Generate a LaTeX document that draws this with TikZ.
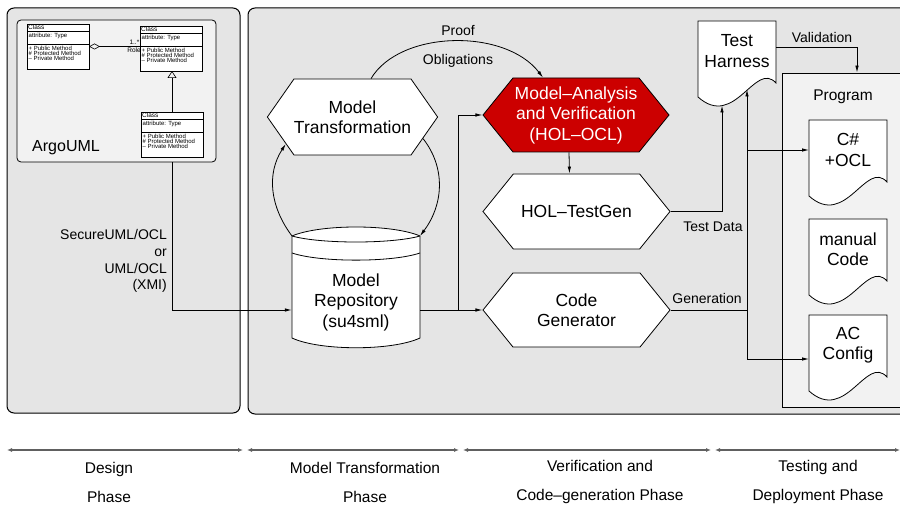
\documentclass[tikz,border=0pt]{standalone}
\usepackage{fontspec}
\setmainfont{Liberation Sans}
\usetikzlibrary{arrows.meta,shapes.symbols}

\definecolor{panelgray}{HTML}{E5E5E5}
\definecolor{lightpanel}{HTML}{F2F2F2}
\definecolor{holred}{HTML}{CC0000}

\tikzset{
  >={Latex[length=7pt,width=3.5pt]},
  conn/.style={line width=0.8pt},
  hexbox/.style={signal, signal to=west and east, draw, fill=white, inner sep=0pt,
    line width=0.8pt, align=center, font=\fontsize{17.5}{20.5}\selectfont},
  lbl/.style={inner sep=0pt, font=\fontsize{14}{16.8}\selectfont},
  bigtxt/.style={inner sep=0pt, align=center, font=\fontsize{17.5}{20.5}\selectfont},
  phase/.style={line width=1.6pt, color=gray!75!black,
    {Latex[length=5pt,width=4pt]}-{Latex[length=5pt,width=4pt]}},
  phaselbl/.style={align=center, font=\fontsize{15.5}{29}\selectfont},
  umltxt/.style={anchor=north west, inner sep=0pt, align=left, font=\fontsize{6}{5}\selectfont},
  docpage/.pic={
    \draw[fill=white, line width=0.8pt] (-39,30) -- (39,30) -- (39,-32)
      .. controls (18,-9) and (-2,-79) .. (-39,-46) -- cycle;
    \coordinate (-dip) at (-15,-54.5);
    \coordinate (-hit) at (10,-38.5);
    \coordinate (-w) at (-39,0);
    \coordinate (-e) at (39,0);
    \node[bigtxt] (-t) at (0,0) {#1};
  },
  umlclass/.pic={
    \node[draw, fill=white, line width=0.5pt, minimum width=62, minimum height=45,
      inner sep=0pt, anchor=north west] (-box) at (0,0) {};
    \draw[line width=0.5pt] (0,-7) -- (62,-7) (0,-20.5) -- (62,-20.5);
    \node[umltxt, font=\fontsize{6.5}{6.5}\selectfont] (-name) at (1,-0.4) {Class};
    \node[umltxt] (-attr) at (1.5,-8.6) {attribute: Type};
    \node[umltxt] (-ops) at (1.5,-22.3) {+ Public Method\\\# Protected Method\\-- Private Method};
    \coordinate (-n) at (31,0);
    \coordinate (-s) at (31,-45);
    \coordinate (-e) at (62,-22.5);
    \coordinate (-w) at (0,-22.5);
  }
}

\begin{document}
\begin{tikzpicture}[x=1pt,y=1pt]
\useasboundingbox (0,0) rectangle (900,-505);
\clip (0,0) rectangle (900,-505);

%the two panels
\draw[fill=panelgray, rounded corners=7pt, line width=1pt] (7,-8) rectangle (240,-413);
\draw[fill=panelgray, rounded corners=7pt, line width=1pt] (248,-8) rectangle (940,-414);

%design tool with a small class diagram
\node[draw, fill=lightpanel, rounded corners=4pt, line width=0.8pt, minimum width=199,
  minimum height=142, inner sep=0pt] (argo) at (116.5,-91) {};
\pic (c1) at (27,-24) {umlclass};
\pic (c2) at (140,-26) {umlclass};
\pic (c3) at (141,-112) {umlclass};
\draw[line width=0.6pt, {Diamond[open,length=11pt,width=6pt]}-] (c1-e) -- (c2-w |- c1-e);
\node[inner sep=0pt, anchor=east, font=\fontsize{6.5}{6.5}\selectfont] (mult) at (139.5,-42.5) {1..*};
\node[inner sep=0pt, anchor=east, font=\fontsize{6.5}{6.5}\selectfont] (role) at (141,-50) {Role};
\draw[line width=0.6pt, -{Triangle[open,length=7pt,width=9pt]}] (c3-n) -- (c3-n |- c2-s);
\node[inner sep=0pt, font=\fontsize{16}{16}\selectfont] (argolbl) at (66,-148) {ArgoUML};

%program box
\node[draw, fill=lightpanel, line width=0.8pt, minimum width=150, minimum height=334,
  inner sep=0pt] (prog) at (857,-240) {};
\node[inner sep=0pt, font=\fontsize{15.5}{18}\selectfont] (proglbl) at (843,-97) {Program};

%tools
\node[hexbox, minimum width=165, minimum height=76, signal pointer angle=110] (mt) at (352.5,-117) {Model\\Transformation};
\node[hexbox, fill=holred, text=white, minimum width=186, minimum height=74, signal pointer angle=102] (mava) at (576,-115) {Model--Analysis\\and Verification\\(HOL--OCL)};
\node[hexbox, minimum width=187, minimum height=75, signal pointer angle=102] (holtg) at (576.5,-211.5) {HOL--TestGen};
\node[hexbox, minimum width=187, minimum height=74, signal pointer angle=102] (codegen) at (576.5,-310) {Code\\Generator};

%model repository
\coordinate (repotl) at (292,-236);
\coordinate (repotr) at (420,-236);
\draw[fill=white, line width=0.8pt] (repotl) .. controls (320,-224) and (392,-224) .. (repotr)
  -- (420,-338) .. controls (392,-351) and (320,-351) .. (292,-338) -- cycle;
\draw[line width=0.8pt] (repotl) .. controls (320,-244) and (392,-244) .. (repotr);
\draw[line width=0.8pt] (292,-253) .. controls (320,-262.5) and (392,-262.5) .. (420,-253);
\node[bigtxt, minimum width=128] (repo) at (356,-302) {Model\\Repository\\(su4sml)};

%documents
\pic (harness) at (737,-51) {docpage={Test\\Harness}};
\pic (csharp) at (848,-150) {docpage={C\#\\+OCL}};
\pic (manual) at (848,-249) {docpage={manual\\Code}};
\pic (acconfig) at (848,-345) {docpage={AC\\Config}};

%connectors
\draw[conn,->] (c3-s |- argo.south) |- (repo.west |- codegen.west);
\draw[conn,->] (repotl) to[out=127, in=237] (mt.202);
\draw[conn,->] (mt.-17) to[out=-52, in=53] (repotr);
\draw[conn,->] ([xshift=18.5]mt.north) .. controls (400,-30) and (505,-28) .. ([xshift=-33]mava.north);
\draw[conn,->] (repo.east |- codegen.west) -- (codegen.west);
\draw[conn,->] ([xshift=38]repo.east |- codegen.west) |- (mava.west);
\draw[conn,->] ([xshift=-7]mava.south) -- ([xshift=-7]holtg.north);
\draw[conn,->] (holtg.east) -| (harness-dip);
\draw[conn,->] (codegen.east) -| (harness-hit);
\draw[conn,->] (csharp-w -| harness-hit) -- (csharp-w);
\draw[conn,->] (codegen.east -| harness-hit) |- ([yshift=-14]acconfig-w);
\draw[conn,->] ([yshift=4]harness-e) -| (prog.north);

%connector labels
\node[lbl] (proof) at (458,-31) {Proof};
\node[lbl] (oblig) at (458,-61) {Obligations};
\node[lbl, align=right, anchor=east] (xmi) at (167,-261) {SecureUML/OCL\\or\\UML/OCL\\(XMI)};
\node[lbl] (testdata) at (713,-227) {Test Data};
\node[lbl] (generation) at (707,-298) {Generation};
\node[lbl] (validation) at (822,-37) {Validation};

%phases
\foreach \a/\b in {7/243, 247/459, 463/711, 715/900}
  \draw[phase] (\a,-450) -- (\b,-450);
\node[phaselbl] (design) at (109,-482) {Design\\Phase};
\node[phaselbl] (transf) at (365,-482) {Model Transformation\\Phase};
\node[phaselbl] (verif) at (600,-482) {Verification and\\Code--generation Phase};
\node[phaselbl] (deploy) at (818,-482) {Testing and\\Deployment Phase};
\end{tikzpicture}
\end{document}
